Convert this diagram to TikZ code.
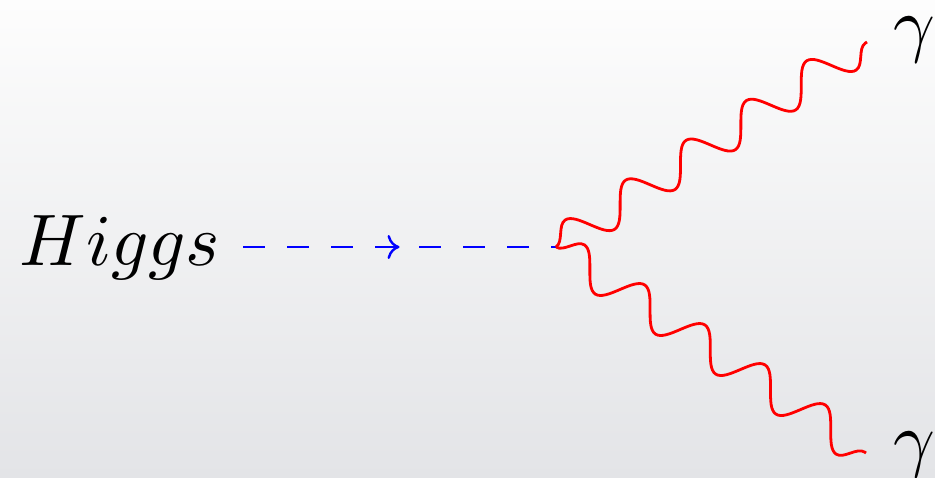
\documentclass[tikz,border=0pt]{standalone}
\usetikzlibrary{decorations.pathmorphing,decorations.markings,arrows.meta}
\definecolor{bgtop}{RGB}{253,253,253}
\definecolor{bgbot}{RGB}{227,228,231}
\tikzset{
  scalar/.style={draw=blue, line width=2.6pt, dash pattern=on 22pt off 22pt,
    postaction={decorate, decoration={markings,
      mark=at position 0.5 with {\arrow[blue, solid, line width=2.4pt]{To[length=12pt,width=24pt]}}}}},
  photon/.style={draw=red, line width=2.8pt,
    decorate, decoration={snake, amplitude=17.5pt, segment length=72.3pt}},
  lbl/.style={inner sep=0pt, scale=7.3}
}
\begin{document}
\begin{tikzpicture}[x=1pt,y=-1pt]
  \shade[top color=bgtop, bottom color=bgbot] (0,0) rectangle (935,478);
  \useasboundingbox (0,0) rectangle (935,478);
  \node[lbl, anchor=base west] (higgs) at (18,266) {$Higgs$};
  \node[lbl, anchor=base west] (g1) at (892,49) {$\gamma$};
  \node[lbl, anchor=base west] (g2) at (892,463) {$\gamma$};
  \coordinate (hs) at (243,247);
  \coordinate (v) at (556,247);
  \coordinate (t) at (867,42);
  \coordinate (b) at (866,453);
  \path[scalar] (hs) -- (v);
  \path[photon] (v) -- (t);
  \path[photon] (v) -- (b);
\end{tikzpicture}
\end{document}
